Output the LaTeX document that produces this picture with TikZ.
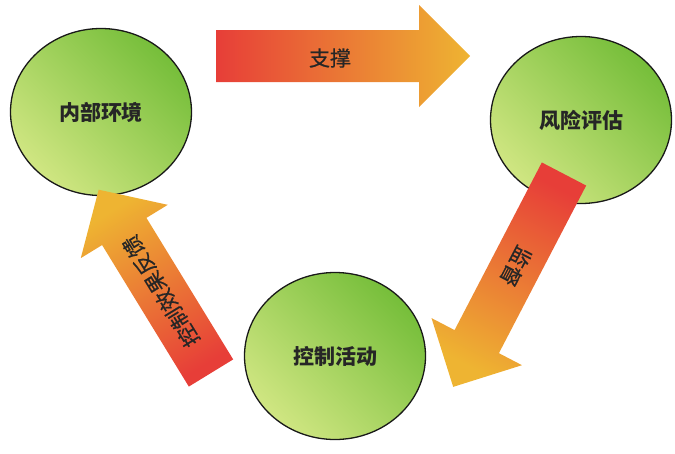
\documentclass[tikz,border=0pt]{standalone}
\usepackage{fontspec}
\newfontfamily\cjk{Noto Sans CJK SC}
\newfontfamily\cjkthick[FakeBold=0.6]{Noto Sans CJK SC}
\usetikzlibrary{shapes.geometric}
\definecolor{leafdark}{RGB}{118,190,58}
\definecolor{leaflight}{RGB}{208,230,130}
\definecolor{arrowred}{RGB}{231,62,56}
\definecolor{arrowgold}{RGB}{238,180,50}

\begin{document}
\begin{tikzpicture}[x=1pt,y=-1pt,
  stage/.style={ellipse, draw=black!90, line width=1.3pt,
    minimum width=181pt, minimum height=167pt,
    top color=leafdark, bottom color=leaflight, shading angle=-45,
    font=\cjk\bfseries\fontsize{21}{21}\selectfont, text=black!85},
  flowlabel/.style={transform shape, font=\cjkthick\fontsize{21}{21}\selectfont, text=black!85}]
\useasboundingbox (0,0) rectangle (675,453);
% the three stages
\node[stage] (env) at (101,112) {内部环境};
\node[stage] (risk) at (581,120) {风险评估};
\node[stage] (activity) at (335,356) {控制活动};
% top arrow
\begin{scope}[shift={(216,56)}]
\shade[top color=arrowgold, bottom color=arrowred, shading angle=-90]
  (0,-26) -- (203,-26) -- (203,-51) -- (254,0) -- (203,51) -- (203,26) -- (0,26) -- cycle;
\node[flowlabel] (support) at (114,2) {支撑};
\end{scope}
% right arrow
\begin{scope}[shift={(564,174)}, rotate=-117.5]
\shade[top color=arrowgold, bottom color=arrowred, shading angle=-207.5]
  (0,-25) -- (189,-25) -- (189,-51) -- (240,0) -- (189,51) -- (189,25) -- (0,25) -- cycle;
\node[flowlabel] (monitor) at (104,0) {监督};
\end{scope}
% left arrow
\begin{scope}[shift={(211,373)}, rotate=121.5]
\shade[top color=arrowgold, bottom color=arrowred, shading angle=31.5]
  (0,-26) -- (166,-26) -- (166,-51) -- (215,0) -- (166,51) -- (166,26) -- (0,26) -- cycle;
\node[flowlabel] (feedback) at (96,0) {控制效果反馈};
\end{scope}
\end{tikzpicture}
\end{document}
